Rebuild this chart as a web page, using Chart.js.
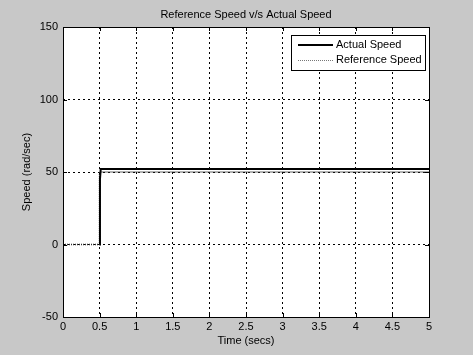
<!DOCTYPE html>
<html>
<head>
<meta charset="utf-8">
<script src="https://cdn.jsdelivr.net/npm/chart.js@4"></script>
<style>
  html, body { margin: 0; padding: 0; background: #c8c8c8; }
  #wrap { width: 473px; height: 355px; }
</style>
</head>
<body>
<div id="wrap"><canvas id="speedChart" width="473" height="355"></canvas></div>
<script>
const timeActual = [0.5, 0.505, 0.515, 5];
const speedActual = [0, 45, 52, 52];
const timeRef = [0, 0.5, 0.5, 5];
const speedRef = [0, 0, 50, 50];
const xTicks = [0, 0.5, 1, 1.5, 2, 2.5, 3, 3.5, 4, 4.5, 5];
const yTicks = [-50, 0, 50, 100, 150];
const seriesNames = ['Actual Speed', 'Reference Speed'];
const chartTitle = 'Reference Speed v/s Actual Speed';

const FONT = 'Liberation Sans, Arial, sans-serif';

const bgPlugin = {
    id: 'bg',
    beforeDraw(chart) {
        const c = chart.ctx;
        c.save();
        c.fillStyle = '#c8c8c8';
        c.fillRect(0, 0, chart.width, chart.height);
        const a = chart.chartArea;
        c.fillStyle = '#ffffff';
        c.fillRect(a.left, a.top, a.right - a.left, a.bottom - a.top);
        c.restore();
    },
    afterDraw(chart) {
        const c = chart.ctx;
        const a = chart.chartArea;
        c.save();
        c.strokeStyle = '#000';
        c.lineWidth = 1;
        c.strokeRect(Math.round(a.left) + 0.5, Math.round(a.top) + 0.5,
            Math.round(a.right - a.left), Math.round(a.bottom - a.top));
        // inward tick marks
        const xs = chart.scales.x, ys = chart.scales.y;
        c.beginPath();
        xTicks.forEach(t => {
            const px = Math.round(xs.getPixelForValue(t)) + 0.5;
            c.moveTo(px, a.bottom); c.lineTo(px, a.bottom - 4);
            c.moveTo(px, a.top); c.lineTo(px, a.top + 4);
        });
        yTicks.forEach(t => {
            const py = Math.round(ys.getPixelForValue(t)) + 0.5;
            c.moveTo(a.left, py); c.lineTo(a.left + 4, py);
            c.moveTo(a.right, py); c.lineTo(a.right - 4, py);
        });
        c.stroke();

        // title centred over plot area
        c.font = '11px ' + FONT;
        c.fillStyle = '#000';
        c.textAlign = 'center';
        c.textBaseline = 'middle';
        c.fillText(chartTitle, (a.left + a.right) / 2, 15);

        // legend box
        const lx = 291, ly = 35, lw = 134, lh = 35;
        c.fillStyle = '#fff';
        c.fillRect(lx, ly, lw, lh);
        c.strokeRect(lx + 0.5, ly + 0.5, lw, lh);
        c.fillStyle = '#000';
        c.textAlign = 'left';
        c.lineWidth = 2;
        c.beginPath(); c.moveTo(298, 45); c.lineTo(333, 45); c.stroke();
        c.fillText(seriesNames[0], 336, 45);
        c.lineWidth = 1;
        c.strokeStyle = '#777';
        c.setLineDash([1, 1]);
        c.beginPath(); c.moveTo(298, 60.5); c.lineTo(333, 60.5); c.stroke();
        c.setLineDash([]);
        c.fillText(seriesNames[1], 336, 60);
        c.restore();
    }
};

new Chart(document.getElementById('speedChart').getContext('2d'), {
    type: 'scatter',
    data: {
        datasets: [
            {
                label: seriesNames[1],
                data: timeRef.map((t, i) => ({ x: t, y: speedRef[i] })),
                showLine: true,
                borderColor: '#333',
                borderWidth: 1.5,
                borderDash: [1, 1],
                pointRadius: 0,
                order: 2
            },
            {
                label: seriesNames[0],
                data: timeActual.map((t, i) => ({ x: t, y: speedActual[i] })),
                showLine: true,
                borderColor: '#000',
                borderWidth: 2,
                pointRadius: 0,
                order: 1
            }
        ]
    },
    options: {
        responsive: false,
        animation: false,
        layout: { padding: { top: 27, right: 44, bottom: 0, left: 0 } },
        scales: {
            x: {
                type: 'linear',
                min: 0, max: 5,
                afterBuildTicks: s => { s.ticks = xTicks.map(v => ({ value: v })); },
                afterFit: s => { s.height = 38; },
                grid: { color: '#000', drawTicks: false, lineWidth: 1 },
                border: { display: false, dash: [2, 3] },
                ticks: { color: '#000', font: { family: FONT, size: 11 }, padding: 3, maxRotation: 0,
                         callback: v => String(v) },
                title: { display: true, text: 'Time (secs)', color: '#000', font: { family: FONT, size: 11 }, padding: { top: 0, bottom: 7 } }
            },
            y: {
                min: -50, max: 150,
                afterBuildTicks: s => { s.ticks = yTicks.map(v => ({ value: v })); },
                afterFit: s => { s.width = 63; },
                grid: { color: '#000', drawTicks: false, lineWidth: 1 },
                border: { display: false, dash: [2, 3] },
                ticks: { color: '#000', font: { family: FONT, size: 11 }, padding: 5,
                         callback: v => String(v) },
                title: { display: true, text: 'Speed (rad/sec)', color: '#000', font: { family: FONT, size: 11 }, padding: { top: 20, bottom: 0 } }
            }
        },
        plugins: {
            legend: { display: false },
            tooltip: { enabled: false },
            title: { display: false }
        }
    },
    plugins: [bgPlugin]
});
</script>
</body>
</html>
